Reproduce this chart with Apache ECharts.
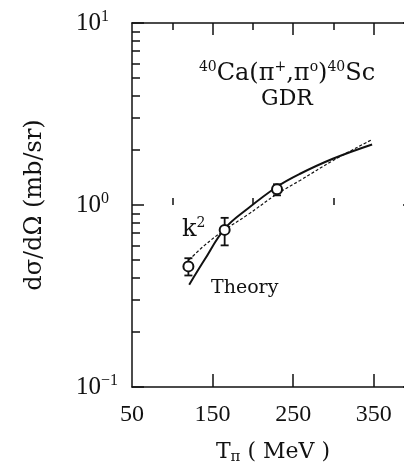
<!DOCTYPE html>
<html>
<head>
<meta charset="utf-8">
<script src="https://cdn.jsdelivr.net/npm/echarts@6/dist/echarts.min.js"></script>
<style>
  html, body { margin: 0; padding: 0; background: #fff; }
  #main { width: 404px; height: 468px; }
</style>
</head>
<body>
<div id="main"></div>
<script type="text/javascript">
  // measured points, 40Ca(pi+,pi0)40Sc GDR
  var dataT = [120, 165, 230];
  var dataSigma = [0.46, 0.73, 1.22];
  var errLow = [0.41, 0.60, 1.13];
  var errHigh = [0.51, 0.85, 1.30];

  // solid curve (Theory)
  var theoryT = [121, 140, 165, 193, 230, 258, 300, 348];
  var theorySigma = [0.365, 0.50, 0.74, 0.95, 1.26, 1.48, 1.80, 2.15];

  // dashed curve (k^2)
  var k2T = [121, 140, 165, 193, 230, 258, 300, 348];
  var k2Sigma = [0.50, 0.60, 0.73, 0.88, 1.15, 1.36, 1.76, 2.29];

  // axis ticks
  var xLabelValues = [50, 150, 250, 350];
  var xMajorTicks = [150, 250, 350];
  var xMinorTicks = [100, 200, 300];
  var yMinorTicks = [0.2, 0.3, 0.4, 0.5, 0.6, 0.7, 0.8, 0.9, 2, 3, 4, 5, 6, 7, 8, 9];

  var serif = '"Liberation Serif", "Times New Roman", serif';
  var wideSerif = '"DejaVu Serif", serif';
  var black = '#111';

  function zip(a, b) {
    var out = [];
    for (var i = 0; i < a.length; i++) out.push([a[i], b[i]]);
    return out;
  }

  var myChart = echarts.init(document.getElementById('main'), null, { renderer: 'canvas' });

  var option = {
    animation: false,
    backgroundColor: '#fff',
    // the frame runs past the right edge of the picture (400 MeV is cut off)
    grid: { left: 132, top: 23, right: -10, bottom: 81, containLabel: false, outerBoundsMode: 'none' },
    xAxis: [
      {
        type: 'value', min: 50, max: 400, position: 'bottom',
        axisLine: { onZero: false, lineStyle: { color: black, width: 1.5 } },
        axisTick: { inside: true, length: 13, customValues: xMajorTicks, lineStyle: { color: black, width: 1.5 } },
        axisLabel: { customValues: xLabelValues, margin: 16, color: black, fontFamily: serif, fontSize: 24 },
        splitLine: { show: false },
        name: '{a|T}{p|π}{a| ( MeV )}',
        nameLocation: 'middle', nameGap: 52,
        nameTextStyle: {
          rich: {
            a: { fontFamily: wideSerif, fontSize: 22, lineHeight: 26, color: black },
            p: { fontFamily: wideSerif, fontSize: 15, lineHeight: 15, verticalAlign: 'bottom', color: black }
          }
        }
      },
      {
        type: 'value', min: 50, max: 400, position: 'bottom',
        axisLine: { show: false },
        axisTick: { inside: true, length: 7, customValues: xMinorTicks, lineStyle: { color: black, width: 1.5 } },
        axisLabel: { show: false }, splitLine: { show: false }
      },
      {
        type: 'value', min: 50, max: 400, position: 'top',
        axisLine: { onZero: false, lineStyle: { color: black, width: 1.5 } },
        axisTick: { inside: true, length: 12, customValues: xMajorTicks, lineStyle: { color: black, width: 1.5 } },
        axisLabel: { show: false }, splitLine: { show: false }
      },
      {
        type: 'value', min: 50, max: 400, position: 'top',
        axisLine: { show: false },
        axisTick: { inside: true, length: 7, customValues: xMinorTicks, lineStyle: { color: black, width: 1.5 } },
        axisLabel: { show: false }, splitLine: { show: false }
      }
    ],
    yAxis: [
      {
        type: 'log', logBase: 10, min: 0.1, max: 10, position: 'left',
        axisLine: { onZero: false, lineStyle: { color: black, width: 1.5 } },
        axisTick: { inside: true, length: 12, lineStyle: { color: black, width: 1.5 } },
        axisLabel: {
          align: 'left', margin: 56,
          formatter: function (v) {
            var e = Math.round(Math.log10(v));
            return '{b|10}{s|' + (e < 0 ? '\u2212' + (-e) : e) + '}';
          },
          rich: {
            b: { fontFamily: serif, fontSize: 25, lineHeight: 28, color: black },
            s: { fontFamily: serif, fontSize: 16, lineHeight: 16, verticalAlign: 'top', color: black }
          }
        },
        splitLine: { show: false }, minorTick: { show: false },
        name: 'dσ/dΩ (mb/sr)',
        nameLocation: 'middle', nameGap: 85,
        nameTextStyle: { fontFamily: wideSerif, fontSize: 24, color: black }
      },
      {
        type: 'value', min: -1, max: 1, position: 'left',
        axisLine: { show: false },
        axisTick: { inside: true, length: 8, customValues: yMinorTicks.map(function (v) { return Math.log10(v); }), lineStyle: { color: black, width: 1.5 } },
        axisLabel: { show: false }, splitLine: { show: false }
      },
      {
        type: 'log', logBase: 10, min: 0.1, max: 10, position: 'right',
        axisLine: { lineStyle: { color: black, width: 1.5 } },
        axisTick: { inside: true, length: 11, lineStyle: { color: black, width: 1.5 } },
        axisLabel: { show: false }, splitLine: { show: false }
      }
    ],
    graphic: [
      {
        type: 'text', x: 287, y: 73,
        style: {
          text: '{s|40}{n|Ca(π}{s|+}{n|,π}{s|o}{n|)}{s|40}{n|Sc}',
          align: 'center', textAlign: 'center', verticalAlign: 'middle', textVerticalAlign: 'middle',
          rich: {
            n: { fontFamily: wideSerif, fontSize: 24, lineHeight: 26, fill: black, verticalAlign: 'bottom' },
            s: { fontFamily: wideSerif, fontSize: 14, lineHeight: 14, fill: black, verticalAlign: 'top' }
          }
        }
      },
      {
        type: 'text', x: 287, y: 99,
        style: { text: 'GDR', fill: black, fontFamily: wideSerif, fontSize: 22,
          align: 'center', textAlign: 'center', verticalAlign: 'middle', textVerticalAlign: 'middle' }
      },
      {
        type: 'text', x: 182, y: 229,
        style: {
          text: '{n|k}{s|2}',
          align: 'left', textAlign: 'left', verticalAlign: 'middle', textVerticalAlign: 'middle',
          rich: {
            n: { fontFamily: wideSerif, fontSize: 24, lineHeight: 26, fill: black, verticalAlign: 'bottom' },
            s: { fontFamily: wideSerif, fontSize: 14, lineHeight: 14, fill: black, verticalAlign: 'top' }
          }
        }
      },
      {
        type: 'text', x: 211, y: 288,
        style: { text: 'Theory', fill: black, fontFamily: wideSerif, fontSize: 19,
          align: 'left', textAlign: 'left', verticalAlign: 'middle', textVerticalAlign: 'middle' }
      }
    ],
    series: [
      {
        name: 'Theory', type: 'line', xAxisIndex: 0, yAxisIndex: 0,
        data: zip(theoryT, theorySigma), smooth: 0.4, showSymbol: false,
        lineStyle: { color: black, width: 2 }, z: 3
      },
      {
        name: 'k2', type: 'line', xAxisIndex: 0, yAxisIndex: 0,
        data: zip(k2T, k2Sigma), smooth: 0.4, showSymbol: false,
        lineStyle: { color: black, width: 1.2, type: [3, 2] }, z: 3
      },
      {
        name: 'error', type: 'custom', xAxisIndex: 0, yAxisIndex: 0,
        data: dataT.map(function (t, i) { return [t, errLow[i], errHigh[i]]; }),
        renderItem: function (params, api) {
          var lo = api.coord([api.value(0), api.value(1)]);
          var hi = api.coord([api.value(0), api.value(2)]);
          var w = 4;
          var st = { stroke: black, lineWidth: 1.8 };
          return {
            type: 'group',
            children: [
              { type: 'line', shape: { x1: lo[0], y1: lo[1], x2: hi[0], y2: hi[1] }, style: st },
              { type: 'line', shape: { x1: lo[0] - w, y1: lo[1], x2: lo[0] + w, y2: lo[1] }, style: st },
              { type: 'line', shape: { x1: hi[0] - w, y1: hi[1], x2: hi[0] + w, y2: hi[1] }, style: st }
            ]
          };
        },
        z: 4
      },
      {
        name: 'data', type: 'scatter', xAxisIndex: 0, yAxisIndex: 0,
        data: zip(dataT, dataSigma), symbol: 'circle', symbolSize: 10,
        itemStyle: { color: '#fff', borderColor: black, borderWidth: 2, opacity: 1 },
        z: 5
      }
    ]
  };

  myChart.setOption(option);
</script>
</body>
</html>
